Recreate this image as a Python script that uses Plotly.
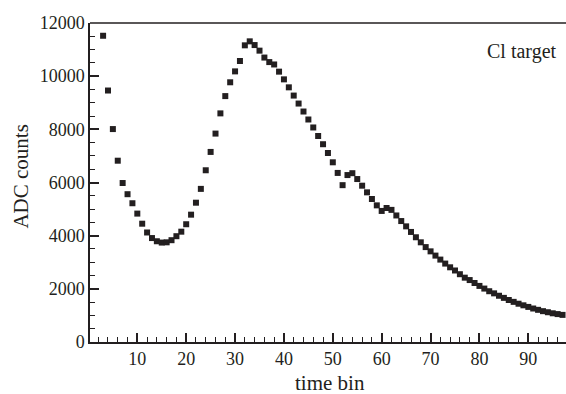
import plotly.graph_objects as go

time_bin = list(range(3, 98))
adc_counts = [
    11520, 9460, 8010, 6820, 5980, 5560, 5220, 4830, 4450, 4120,   # 3-12
    3910, 3790, 3740, 3750, 3830, 3980, 4150, 4430, 4790, 5240,    # 13-22
    5760, 6460, 7150, 7840, 8600, 9250, 9770, 10180, 10570, 11160, # 23-32
    11310, 11170, 10960, 10700, 10530, 10440, 10170, 9880, 9580, 9270,  # 33-42
    8970, 8670, 8370, 8070, 7750, 7440, 7110, 6760, 6360, 5900,    # 43-52
    6280, 6350, 6130, 5880, 5630, 5380, 5140, 4930, 5040, 4970,    # 53-62
    4760, 4550, 4350, 4140, 3940, 3750, 3570, 3410, 3250, 3100,    # 63-72
    2950, 2810, 2690, 2550, 2420, 2330, 2220, 2110, 2010, 1910,    # 73-82
    1830, 1740, 1660, 1580, 1510, 1440, 1380, 1320, 1260, 1210,    # 83-92
    1160, 1120, 1080, 1050, 1020,                                  # 93-97
]

x_tick_vals = [10, 20, 30, 40, 50, 60, 70, 80, 90]
x_tick_text = ["10", "20", "30", "40", "50", "60", "70", "80", "90"]
y_tick_vals = [0, 2000, 4000, 6000, 8000, 10000, 12000]
y_tick_text = ["0", "2000", "4000", "6000", "8000", "10000", "12000"]
x_minor_step = 2
y_minor_step = 500

X_RANGE = [0.32, 97.71]
Y_RANGE = [0, 12000]
FONT = "Liberation Serif, Times New Roman, serif"
INK = "#231f20"

fig = go.Figure()
fig.add_trace(go.Scatter(
    x=time_bin, y=adc_counts, mode="markers",
    marker=dict(symbol="square", size=6, color=INK, line=dict(width=0)),
    showlegend=False, hoverinfo="skip",
))
# invisible copy on overlay axes that carry the minor ticks
fig.add_trace(go.Scatter(
    x=time_bin, y=adc_counts, mode="markers", xaxis="x2", yaxis="y2",
    marker=dict(size=1, opacity=0), showlegend=False, hoverinfo="skip",
))

fig.update_layout(
    width=566, height=394,
    margin=dict(l=90, r=0, t=23, b=52),
    paper_bgcolor="white", plot_bgcolor="white",
    font=dict(family=FONT, color=INK, size=18),
    xaxis=dict(
        range=X_RANGE, tickmode="array", tickvals=x_tick_vals, ticktext=x_tick_text,
        ticks="inside", ticklen=9, tickwidth=1.5, tickcolor=INK,
        showline=True, linecolor=INK, linewidth=1.5,
        showgrid=False, zeroline=False,
        tickfont=dict(family=FONT, size=18, color=INK),
    ),
    yaxis=dict(
        range=Y_RANGE, tickmode="array", tickvals=y_tick_vals, ticktext=y_tick_text,
        ticks="inside", ticklen=9, tickwidth=1.5, tickcolor=INK,
        showline=True, linecolor=INK, linewidth=1.5,
        showgrid=False, zeroline=False,
        tickfont=dict(family=FONT, size=18, color=INK),
    ),
    xaxis2=dict(
        overlaying="x", anchor="y", side="bottom", range=X_RANGE,
        tickmode="linear", tick0=0, dtick=x_minor_step,
        ticks="inside", ticklen=5, tickwidth=1.2, tickcolor=INK,
        showticklabels=False, showline=False, showgrid=False, zeroline=False,
    ),
    yaxis2=dict(
        overlaying="y", anchor="x", side="left", range=Y_RANGE,
        tickmode="linear", tick0=0, dtick=y_minor_step,
        ticks="inside", ticklen=5, tickwidth=1.2, tickcolor=INK,
        showticklabels=False, showline=False, showgrid=False, zeroline=False,
    ),
)
# top frame line
fig.add_shape(type="line", xref="paper", yref="paper", x0=0, x1=1, y0=1, y1=1,
              line=dict(color=INK, width=1.5))
fig.update_layout(annotations=[
    dict(text="ADC counts", xref="paper", yref="paper", x=-0.144, y=0.52,
         xanchor="center", yanchor="middle", textangle=-90, showarrow=False,
         font=dict(family=FONT, size=21, color=INK)),
    dict(text="time bin", xref="paper", yref="paper", x=0.505, y=-0.127,
         xanchor="center", yanchor="middle", showarrow=False,
         font=dict(family=FONT, size=21, color=INK)),
    dict(text="Cl target", xref="paper", yref="paper", x=0.985, y=0.91,
         xanchor="right", yanchor="middle", showarrow=False,
         font=dict(family=FONT, size=20, color=INK)),
])

fig.write_html("out.html")
